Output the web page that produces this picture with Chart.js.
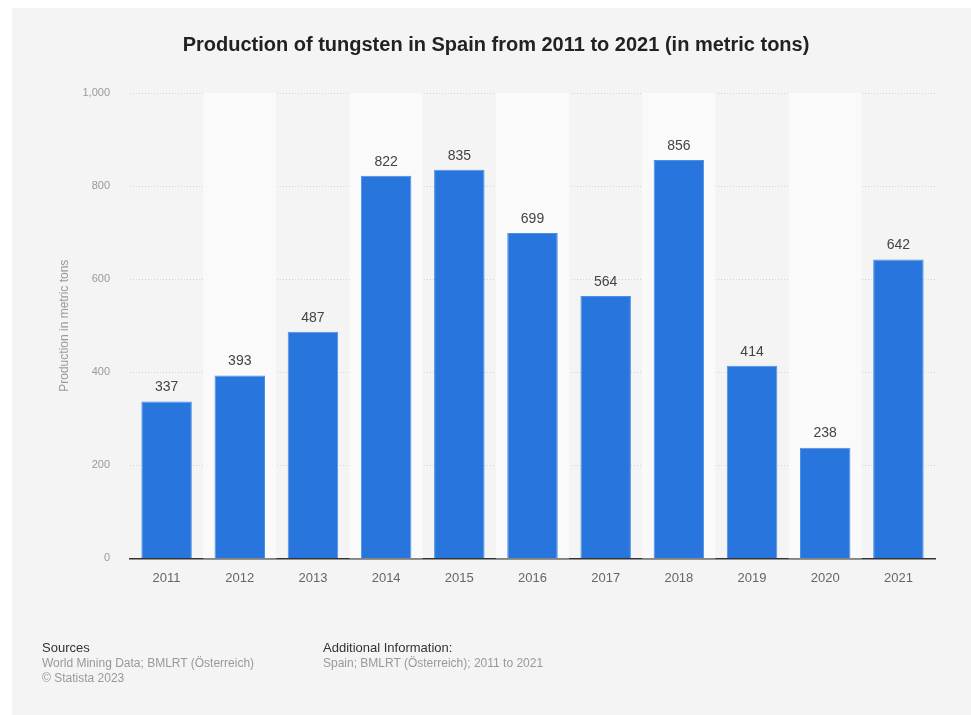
<!DOCTYPE html>
<html>
<head>
<meta charset="utf-8">
<script src="https://cdn.jsdelivr.net/npm/chart.js@4.4.0/dist/chart.umd.min.js"></script>
<style>
  html, body { margin: 0; padding: 0; background: #ffffff; }
  body { width: 971px; height: 715px; position: relative; overflow: hidden; font-family: "Liberation Sans", Arial, sans-serif; }
  #panel { position: absolute; left: 12px; top: 8px; width: 959px; height: 707px; background: #f4f4f4; }
  #wrap { position: absolute; left: 0; top: 0; width: 971px; height: 715px; }
  .foot { position: absolute; font-size: 12px; line-height: 15px; color: #999; }
  .foot b { font-weight: normal; color: #333; font-size: 13px; display: block; margin-bottom: 1px; }
</style>
</head>
<body>
<div id="panel"></div>
<div id="wrap"><canvas id="chart"></canvas></div>
<div class="foot" style="left:42px; top:640px;">
  <b>Sources</b>
  World Mining Data; BMLRT (Österreich)<br>
  © Statista 2023
</div>
<div class="foot" style="left:323px; top:640px;">
  <b>Additional Information:</b>
  Spain; BMLRT (Österreich); 2011 to 2021
</div>
<script>
// --- Data ---
const years = ['2011', '2012', '2013', '2014', '2015', '2016', '2017', '2018', '2019', '2020', '2021'];
const production = [337, 393, 487, 822, 835, 699, 564, 856, 414, 238, 642];
const yTicks = [0, 200, 400, 600, 800, 1000];

const FONT = "'Liberation Sans', Arial, sans-serif";

// alternating column bands behind the bars
const bandPlugin = {
    id: 'bands',
    beforeDatasetsDraw(chart) {
        const { ctx, chartArea, scales } = chart;
        const x = scales.x;
        const step = x.width / years.length;
        ctx.save();
        ctx.fillStyle = '#fafafa';
        years.forEach((y, i) => {
            if (i % 2 === 1) {
                const cx = x.getPixelForValue(i);
                ctx.fillRect(cx - step / 2, chartArea.top, step, chartArea.bottom - chartArea.top);
            }
        });
        ctx.restore();
    }
};

// value labels above bars
const valueLabels = {
    id: 'valueLabels',
    afterDatasetsDraw(chart) {
        const { ctx } = chart;
        const meta = chart.getDatasetMeta(0);
        ctx.save();
        ctx.font = '14px ' + FONT;
        ctx.fillStyle = '#444';
        ctx.textAlign = 'center';
        ctx.textBaseline = 'bottom';
        meta.data.forEach((bar, i) => {
            ctx.fillText(String(production[i]), bar.x, bar.y - 7);
        });
        ctx.restore();
    }
};

new Chart(document.getElementById('chart'), {
    type: 'bar',
    data: {
        labels: years,
        datasets: [{
            data: production,
            backgroundColor: '#2876dd',
            borderColor: '#4d8fe6',
            borderWidth: { top: 1, left: 1, right: 1, bottom: 0 },
            barPercentage: 0.69,
            categoryPercentage: 1.0
        }]
    },
    options: {
        responsive: true,
        maintainAspectRatio: false,
        animation: false,
        layout: { padding: { left: 57, right: 36, top: 0, bottom: 117 } },
        plugins: {
            legend: { display: false },
            tooltip: { enabled: false },
            title: {
                display: true,
                text: 'Production of tungsten in Spain from 2011 to 2021 (in metric tons)',
                color: '#222',
                font: { family: FONT, size: 20, weight: 'bold' },
                padding: { top: 33, bottom: 36 }
            }
        },
        scales: {
            x: {
                grid: { display: false, drawTicks: false },
                border: { display: true, color: '#333', width: 1.5 },
                ticks: { color: '#666', font: { family: FONT, size: 13 }, padding: 12 }
            },
            y: {
                min: 0,
                max: 1000,
                afterFit: s => { s.width = 73; },
                afterBuildTicks: s => { s.ticks = yTicks.map(v => ({ value: v })); },
                grid: { color: '#d4d4d4', drawTicks: false },
                border: { display: false, dash: [1, 2] },
                ticks: {
                    color: '#999',
                    font: { family: FONT, size: 11 },
                    padding: 20,
                    callback: v => v.toLocaleString('en-US')
                },
                title: {
                    display: true,
                    text: 'Production in metric tons',
                    color: '#999',
                    font: { family: FONT, size: 12 },
                    padding: { top: 0, bottom: 0 }
                }
            }
        }
    },
    plugins: [bandPlugin, valueLabels]
});
</script>
</body>
</html>
